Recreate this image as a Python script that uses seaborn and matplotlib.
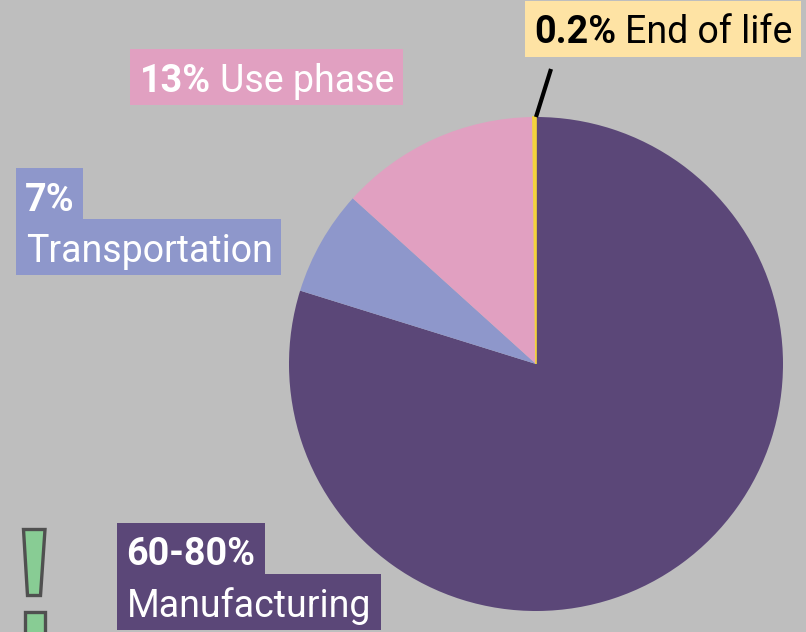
import matplotlib
matplotlib.use("Agg")
import matplotlib.pyplot as plt
from matplotlib.patches import Polygon, Rectangle
import seaborn as sns

stages = ["Manufacturing", "Transportation", "Use phase", "End of life"]
shares = [79.8, 6.9, 13.1, 0.2]
share_labels = ["60-80%", "7%", "13%", "0.2%"]
colors = ["#5B4778", "#8E97CB", "#E1A0C1", "#F3D33C"]

W, H = 806, 632
BG = "#BEBEBE"
FS = 27
FS_BOLD = 27.2

sns.set_theme(style="white", rc={"figure.facecolor": BG, "axes.facecolor": BG})
plt.rcParams["font.family"] = ["Roboto", "DejaVu Sans"]


def flip(y):
    return H - y


def box(ax, x0, y0, x1, y1, color):
    ax.add_patch(Rectangle((x0, flip(y1)), x1 - x0, y1 - y0, fc=color, ec="none", zorder=3))


def label(ax, x, y, s, color="white", bold=False):
    ax.text(x, flip(y), s, color=color, fontsize=FS_BOLD if bold else FS, va="baseline", ha="left",
            fontweight="bold" if bold else "normal", zorder=4)


fig = plt.figure(figsize=(W / 100, H / 100), dpi=100)
ax = fig.add_axes([0, 0, 1, 1])

wedges, _ = ax.pie(shares, colors=colors, startangle=90, counterclock=False,
                   center=(536, flip(364)), radius=247, frame=True,
                   wedgeprops={"linewidth": 0})
# the last slice is too thin to show otherwise
wedges[3].set_edgecolor(colors[3])
wedges[3].set_linewidth(1.2)
ax.set_xlim(0, W)
ax.set_ylim(0, H)
ax.set_aspect("equal")
ax.axis("off")

# leader line to the tiny slice
ax.plot([536, 551], [flip(117), flip(69)], color="black", lw=3, solid_capstyle="butt", zorder=3)

# 0.2% End of life
box(ax, 525, 1, 801, 57, "#FEE3A4")
label(ax, 534, 43, share_labels[3], color="black", bold=True)
label(ax, 625, 43, stages[3], color="black")

# 13% Use phase
box(ax, 130, 49, 403, 105, colors[2])
label(ax, 140, 92, share_labels[2], bold=True)
label(ax, 220, 92, stages[2])

# 7% Transportation
box(ax, 16, 168, 83, 225, colors[1])
box(ax, 16, 219, 281, 275, colors[1])
label(ax, 25, 211, share_labels[1], bold=True)
label(ax, 26, 262, stages[1])

# 60-80% Manufacturing
box(ax, 117, 523, 265, 580, colors[0])
box(ax, 117, 574, 381, 630, colors[0])
label(ax, 126, 565, share_labels[0], bold=True)
label(ax, 127, 617, stages[0])

# exclamation mark, cut off by the bottom edge
mark = dict(fc="#88CC94", ec="#505050", lw=2.4, zorder=3)
ax.add_patch(Polygon([(23.5, flip(529.5)), (45, flip(529.5)), (40.5, flip(595.5)), (27.5, flip(595.5))], **mark))
ax.add_patch(Polygon([(24.5, flip(611.5)), (44.5, flip(611.5)), (44.5, flip(640)), (24.5, flip(640))], **mark))

fig.savefig("out.png", dpi=100, facecolor=BG)
